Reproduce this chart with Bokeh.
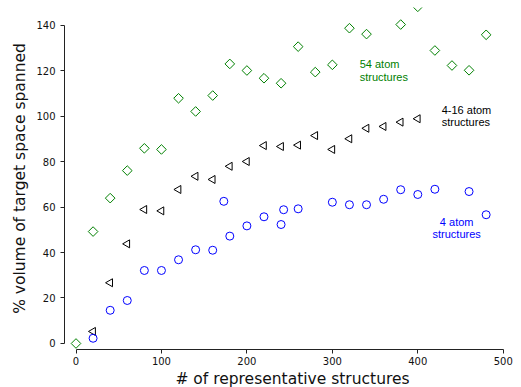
import math
from bokeh.plotting import figure
from bokeh.models import FixedTicker, ColumnDataSource
from bokeh.core.properties import value
from bokeh.embed import file_html
from bokeh.resources import INLINE

# 54 atom structures (green diamonds)
x54 = [0, 20, 40, 60, 80, 100, 120, 140, 160, 180, 200, 220, 240, 260, 280, 300,
       320, 340, 380, 400, 420, 440, 460, 480]
y54 = [0, 49.2, 63.9, 76.0, 85.8, 85.3, 107.8, 102.0, 109.0, 122.9, 120.0, 116.6,
       114.4, 130.5, 119.3, 122.5, 138.6, 136.0, 140.2, 148.0, 128.8, 122.2, 120.1, 135.7]

# 4-16 atom structures (black left triangles)
x416 = [20, 40, 60, 80, 100, 120, 140, 160, 180, 200, 220, 240, 260, 280, 300,
        320, 340, 360, 380, 400]
y416 = [5.3, 26.7, 43.8, 58.9, 58.3, 67.7, 73.5, 72.1, 77.9, 80.0, 87.0, 86.6,
        87.2, 91.4, 85.3, 90.0, 94.6, 95.4, 97.3, 98.8]

# 4 atom structures (blue circles)
x4 = [20, 40, 60, 80, 100, 120, 140, 160, 173, 180, 200, 220, 240, 243, 260,
      300, 320, 340, 360, 380, 400, 420, 460, 480]
y4 = [2.3, 14.6, 18.9, 32.1, 32.1, 36.8, 41.2, 41.0, 62.5, 47.2, 51.7, 55.7,
      52.3, 58.8, 59.2, 62.1, 61.0, 61.0, 63.4, 67.6, 65.5, 67.8, 66.8, 56.6]

x_ticks = [0, 100, 200, 300, 400, 500]
y_ticks = [0, 20, 40, 60, 80, 100, 120, 140]

ann_text = ["54 atom\nstructures", "4-16 atom\nstructures", "4 atom\nstructures"]
ann_x = [332, 428, 445.5]
ann_y = [120, 100, 50.8]
ann_color = ["green", "black", "blue"]
ann_align = ["left", "left", "center"]

p = figure(frame_width=456, frame_height=342, output_backend="svg", toolbar_location=None,
           x_range=(-13.46, 520.2), y_range=(-2.64, 147.7),
           min_border_left=64, min_border_right=0, min_border_top=7, min_border_bottom=38)
p.outline_line_color = None
p.grid.visible = False
p.background_fill_color = "white"
p.border_fill_color = "white"

for ax, ticks, bounds in ((p.xaxis[0], x_ticks, (0, 500)), (p.yaxis[0], y_ticks, (0, 140))):
    ax.ticker = FixedTicker(ticks=ticks)
    ax.bounds = bounds
    ax.minor_tick_line_color = None
    ax.major_tick_out = 4
    ax.major_tick_in = 0
    ax.axis_line_color = "#222222"
    ax.major_tick_line_color = "#222222"
    ax.major_label_text_font = "DejaVu Sans"
    ax.major_label_text_font_size = "10px"
    ax.major_label_text_color = "#111111"
    ax.axis_label_text_font = "DejaVu Sans"
    ax.axis_label_text_font_size = "15.5px"
    ax.axis_label_text_font_style = "normal"
    ax.axis_label_text_color = "#111111"

p.xaxis.axis_label = "# of representative structures"
p.yaxis.axis_label = "% volume of target space spanned"
p.xaxis.major_label_standoff = 3
p.xaxis.axis_label_standoff = 2
p.yaxis.major_label_standoff = 5
p.yaxis.axis_label_standoff = 4

p.scatter(x54, y54, marker="square", size=6.8, angle=math.pi / 4,
          fill_color=None, line_color="green", line_width=1)
p.scatter(x416, y416, marker="triangle", size=8, angle=math.pi / 2,
          fill_color=None, line_color="black", line_width=1)
p.scatter(x4, y4, marker="circle", size=8,
          fill_color=None, line_color="blue", line_width=1)

src = ColumnDataSource(dict(x=ann_x, y=ann_y, t=ann_text, c=ann_color, a=ann_align))
p.text(x="x", y="y", text="t", text_color="c", text_align="a", source=src,
       text_baseline="middle", text_font=value("Liberation Sans"),
       text_font_size="11px", text_line_height=1.05)

open("out.html", "w").write(file_html(p, INLINE))
